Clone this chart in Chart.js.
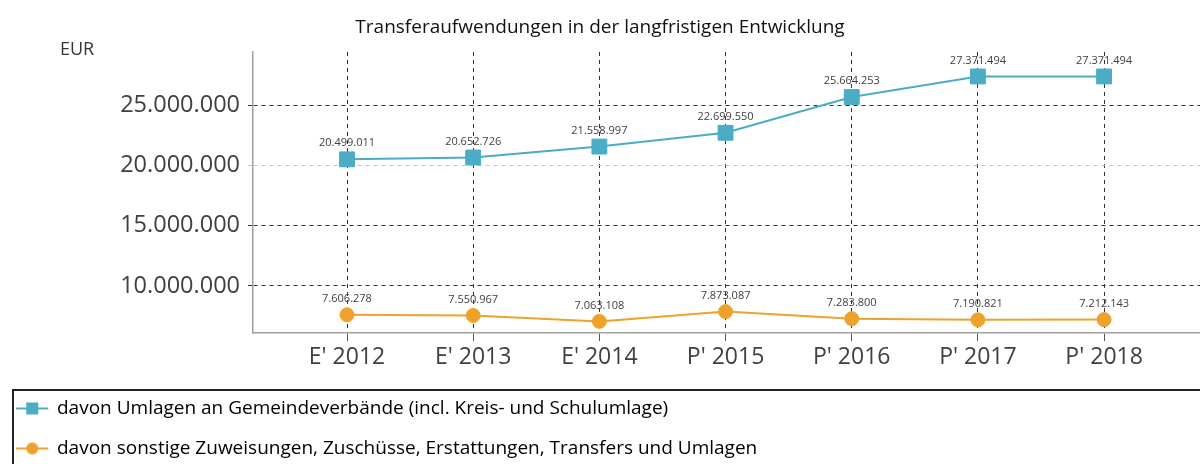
<!DOCTYPE html>
<html>
<head>
<meta charset="utf-8">
<script src="https://cdn.jsdelivr.net/npm/chart.js@4.4.1/dist/chart.umd.min.js"></script>
<style>
  html, body { margin: 0; padding: 0; background: #fff; }
  #wrap { width: 1200px; height: 464px; position: relative; }
</style>
</head>
<body>
<div id="wrap"><canvas id="c" width="1200" height="464"></canvas></div>
<script>
const categories = ["E' 2012", "E' 2013", "E' 2014", "P' 2015", "P' 2016", "P' 2017", "P' 2018"];
const umlagen = [20499011, 20652726, 21558997, 22699550, 25664253, 27371494, 27371494];
const sonstige = [7606278, 7550967, 7063108, 7873087, 7283800, 7190821, 7212143];
const yTicks = [10000000, 15000000, 20000000, 25000000];
const seriesNames = [
  "davon Umlagen an Gemeindeverbände (incl. Kreis- und Schulumlage)",
  "davon sonstige Zuweisungen, Zuschüsse, Erstattungen, Transfers und Umlagen"
];
const titleText = "Transferaufwendungen in der langfristigen Entwicklung";
const unitText = "EUR";

const TEAL = '#4aacc5';
const ORANGE = '#eea22b';
const FONT = "'Open Sans', 'Noto Sans', sans-serif";

function fmt(v) {
  return Math.round(v).toString().replace(/\B(?=(\d{3})+(?!\d))/g, '.');
}

function legendIcon(color, shape) {
  const c = document.createElement('canvas');
  c.width = 36; c.height = 16;
  const x = c.getContext('2d');
  x.strokeStyle = color; x.lineWidth = 2;
  x.beginPath(); x.moveTo(0, 8); x.lineTo(32, 8); x.stroke();
  x.fillStyle = color;
  if (shape === 'rect') { x.fillRect(10, 2, 12, 12); }
  else { x.beginPath(); x.arc(16, 8, 6, 0, Math.PI * 2); x.fill(); }
  return c;
}
const icons = [legendIcon(TEAL, 'rect'), legendIcon(ORANGE, 'circle')];

const extras = {
  id: 'extras',
  afterDatasetsDraw(chart) {
    const ctx = chart.ctx;
    ctx.save();
    ctx.font = "11px " + FONT;
    ctx.fillStyle = '#404040';
    ctx.textAlign = 'center';
    ctx.textBaseline = 'middle';
    chart.data.datasets.forEach((ds, di) => {
      const meta = chart.getDatasetMeta(di);
      meta.data.forEach((pt, i) => {
        ctx.fillText(fmt(ds.data[i].y), pt.x, pt.y - 16);
      });
    });
    ctx.restore();
  },
  afterDraw(chart) {
    const ctx = chart.ctx;
    ctx.save();
    ctx.font = "18px " + FONT;
    ctx.fillStyle = '#333';
    ctx.textAlign = 'left';
    ctx.textBaseline = 'middle';
    ctx.fillText(unitText, 60, 50);
    ctx.strokeStyle = '#222';
    ctx.lineWidth = 2;
    ctx.strokeRect(13, 390, 1220, 120);
    ctx.restore();
  }
};

new Chart(document.getElementById('c'), {
  type: 'line',
  data: {
    datasets: [
      {
        label: seriesNames[0],
        data: umlagen.map((v, i) => ({ x: i, y: v })),
        borderColor: TEAL, backgroundColor: TEAL,
        borderWidth: 2, pointStyle: 'rect', pointRadius: 10.5,
        pointBorderWidth: 1, tension: 0
      },
      {
        label: seriesNames[1],
        data: sonstige.map((v, i) => ({ x: i, y: v })),
        borderColor: ORANGE, backgroundColor: ORANGE,
        borderWidth: 2, pointStyle: 'circle', pointRadius: 7,
        pointBorderWidth: 1, tension: 0
      }
    ]
  },
  options: {
    responsive: false,
    animation: false,
    events: [],
    layout: { autoPadding: false, padding: { left: 0, right: 0, top: 0, bottom: -4 } },
    plugins: {
      title: {
        display: true, text: titleText, color: '#111',
        font: { family: FONT, size: 19, weight: 'normal' },
        padding: { top: 16, bottom: 13.2 }
      },
      legend: {
        display: true, position: 'bottom', align: 'start',
        labels: {
          usePointStyle: true, pointStyleWidth: 26.5,
          color: '#222', padding: 21,
          font: { family: FONT, size: 19 },
          generateLabels(chart) {
            return chart.data.datasets.map((ds, i) => ({
              text: ds.label, pointStyle: icons[i], datasetIndex: i,
              fillStyle: ds.borderColor, strokeStyle: ds.borderColor, lineWidth: 0, hidden: false
            }));
          }
        }
      },
      tooltip: { enabled: false }
    },
    scales: {
      x: {
        type: 'linear', min: -0.745, max: 6.76,
        afterBuildTicks(s) { s.ticks = categories.map((_, i) => ({ value: i })); },
        afterFit(s) { s.height = 45; s.paddingLeft = 0; s.paddingRight = 0; },
        ticks: {
          callback: (v) => categories[v] ?? '',
          color: '#404040', font: { family: FONT, size: 23 }, padding: 3,
          maxRotation: 0, autoSkip: false
        },
        grid: { color: '#333', lineWidth: 1, tickLength: 8, tickColor: '#555' },
        border: { display: true, color: '#a0a0a0', width: 1.5, dash: [4, 4] }
      },
      y: {
        min: 6100000, max: 29400000,
        afterBuildTicks(s) { s.ticks = yTicks.map(v => ({ value: v })); },
        afterFit(s) { s.width = 253; s.paddingTop = 0; s.paddingBottom = 0; },
        ticks: {
          callback: (v) => fmt(v),
          color: '#404040', font: { family: FONT, size: 23.5 }, padding: 8
        },
        grid: {
          color: (c) => (c.tick && c.tick.value === 20000000) ? '#c4c4c4' : '#333',
          lineWidth: 1, tickLength: 5
        },
        border: { display: true, color: '#a0a0a0', width: 1.5, dash: [4, 4] }
      }
    }
  },
  plugins: [extras]
});
</script>
</body>
</html>
